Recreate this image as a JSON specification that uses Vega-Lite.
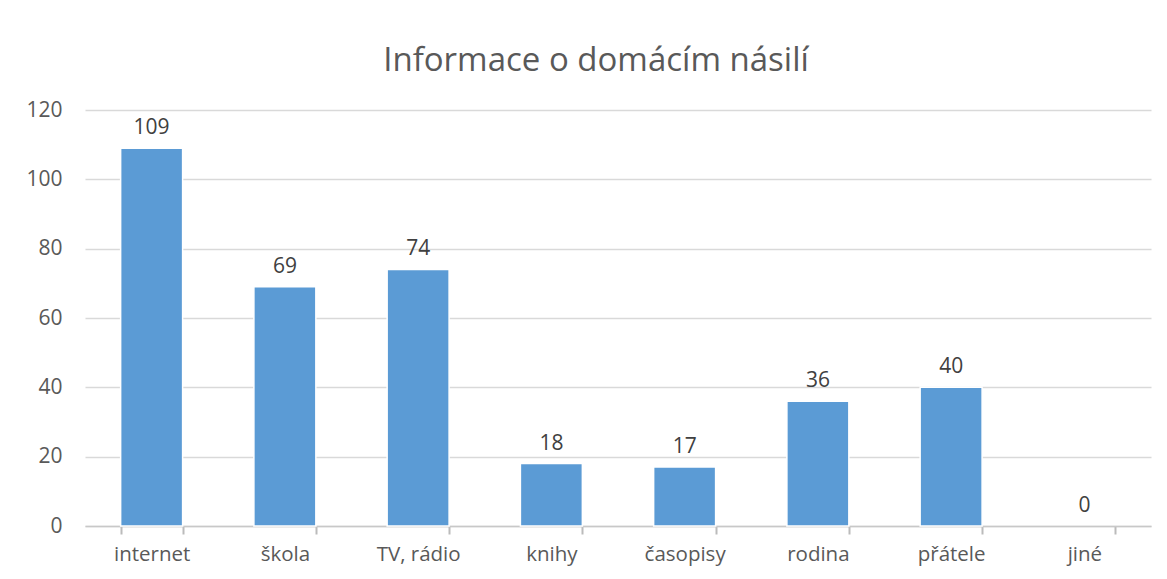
{
  "$schema": "https://vega.github.io/schema/vega-lite/v6.json",
  "autosize": "none",
  "width": 1066,
  "height": 416,
  "padding": {"left": 85, "top": 110, "right": 16, "bottom": 53},
  "background": "white",
  "title": {
    "text": "Informace o domácím násilí",
    "font": "Open Sans",
    "fontSize": 33,
    "fontWeight": "normal",
    "color": "#595959",
    "anchor": "middle",
    "dx": -22,
    "offset": 21
  },
  "data": {
    "values": [
      {"zdroj": "internet", "pocet": 109},
      {"zdroj": "škola", "pocet": 69},
      {"zdroj": "TV, rádio", "pocet": 74},
      {"zdroj": "knihy", "pocet": 18},
      {"zdroj": "časopisy", "pocet": 17},
      {"zdroj": "rodina", "pocet": 36},
      {"zdroj": "přátele", "pocet": 40},
      {"zdroj": "jiné", "pocet": 0}
    ]
  },
  "encoding": {
    "x": {
      "field": "zdroj",
      "type": "nominal",
      "sort": null,
      "scale": {"paddingInner": 0.535, "paddingOuter": 0.2675},
      "axis": {
        "title": null,
        "labelAngle": 0,
        "labelFont": "Open Sans",
        "labelFontSize": 20.5,
        "labelColor": "#595959",
        "labelPadding": 10,
        "domainColor": "#C8C8C8",
        "domainWidth": 1.5,
        "ticks": true,
        "tickColor": "#BBBBBB",
        "tickWidth": 2,
        "tickSize": 8,
        "tickBand": "extent",
        "tickOpacity": 1,
        "grid": false
      }
    },
    "y": {
      "field": "pocet",
      "type": "quantitative",
      "scale": {"domain": [0, 120], "nice": false},
      "axis": {
        "title": null,
        "values": [0, 20, 40, 60, 80, 100, 120],
        "labelFont": "Open Sans",
        "labelFontSize": 21,
        "labelColor": "#595959",
        "labelPadding": 23,
        "domain": false,
        "ticks": false,
        "gridColor": "#D9D9D9",
        "gridWidth": 1.5
      }
    }
  },
  "layer": [
    {
      "transform": [{"filter": "datum.pocet > 0"}],
      "mark": {"type": "bar", "color": "#5B9BD5", "stroke": "white", "strokeWidth": 1.5}
    },
    {
      "mark": {"type": "text", "baseline": "bottom", "dy": -10, "font": "Open Sans", "fontSize": 21, "color": "#404040"},
      "encoding": {"text": {"field": "pocet", "type": "quantitative"}}
    }
  ],
  "config": {"view": {"stroke": null}}
}
